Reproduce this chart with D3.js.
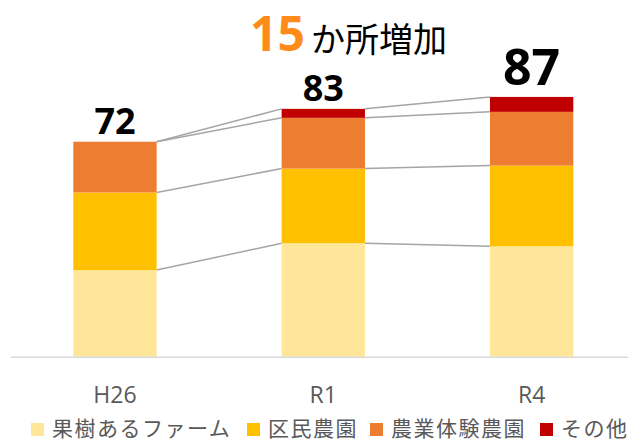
<!DOCTYPE html>
<html>
<head>
<meta charset="utf-8">
<script src="https://cdn.jsdelivr.net/npm/d3@7"></script>
<style>
  body { margin: 0; background: #fff; }
  svg { display: block; }
  .axisText { font-family: "Open Sans", sans-serif; font-size: 23px; fill: #595959; }
  .legendText { font-family: "Noto Sans CJK JP", sans-serif; font-size: 21px; letter-spacing: 1.5px; fill: #595959; }
  .total { font-family: "Open Sans", sans-serif; font-weight: bold; fill: #000; }
</style>
</head>
<body>
<div id="body"></div>
<script>
// data
var years = ["H26", "R1", "R4"];
var seriesNames = ["果樹あるファーム", "区民農園", "農業体験農園", "その他"];
var fruitFarm = [29, 38, 37];
var wardFarm = [26, 25, 27];
var experienceFarm = [17, 17, 18];
var otherFarm = [0, 3, 5];

var colors = ["#ffe699", "#ffc000", "#ed7d31", "#c00000"];

var width = 628, height = 440;

var svg = d3.select("#body")
  .append("svg")
  .attr("width", width)
  .attr("height", height);

var table = years.map(function(y, i) {
  return {
    year: y,
    "果樹あるファーム": fruitFarm[i],
    "区民農園": wardFarm[i],
    "農業体験農園": experienceFarm[i],
    "その他": otherFarm[i]
  };
});

var stacked = d3.stack().keys(seriesNames)(table);

var x = d3.scaleBand()
  .domain(years)
  .range([10.8, 635.8])
  .paddingInner(0.6)
  .paddingOuter(0.3);

var y = d3.scaleLinear()
  .domain([0, 100])
  .range([356.7, 58.1]);

// connector lines between segment tops
stacked.forEach(function(s) {
  for (var i = 0; i < years.length - 1; i++) {
    var a = s[i][1], b = s[i + 1][1];
    if (s[i][1] - s[i][0] == 0 && s[i + 1][1] - s[i + 1][0] == 0) continue;
    svg.append("line")
      .attr("x1", x(years[i]) + x.bandwidth())
      .attr("x2", x(years[i + 1]))
      .attr("y1", y(a))
      .attr("y2", y(b))
      .attr("stroke", "#a5a5a5")
      .attr("stroke-width", 1.5);
  }
});

// bars
svg.selectAll("g.series")
  .data(stacked)
  .enter().append("g")
  .attr("class", "series")
  .attr("fill", function(d, i) { return colors[i]; })
  .selectAll("rect")
  .data(function(d) { return d; })
  .enter().append("rect")
  .attr("x", function(d) { return x(d.data.year); })
  .attr("y", function(d) { return y(d[1]); })
  .attr("width", x.bandwidth())
  .attr("height", function(d) { return y(d[0]) - y(d[1]); });

// axis line
svg.append("line")
  .attr("x1", 11).attr("x2", 628)
  .attr("y1", y(0) + 0.5).attr("y2", y(0) + 0.5)
  .attr("stroke", "#d9d9d9")
  .attr("stroke-width", 1.5);

// category labels
svg.selectAll("text.cat")
  .data(years)
  .enter().append("text")
  .attr("class", "axisText")
  .attr("x", function(d) { return x(d) + x.bandwidth() / 2; })
  .attr("y", 403)
  .attr("text-anchor", "middle")
  .text(function(d) { return d; });

// totals
var totals = table.map(function(d) {
  return d3.sum(seriesNames, function(k) { return d[k]; });
});

svg.selectAll("text.total")
  .data(totals)
  .enter().append("text")
  .attr("class", "total")
  .attr("x", function(d, i) { return x(years[i]) + x.bandwidth() / 2; })
  .attr("y", function(d, i) { return y(d) - (i == 2 ? 12 : 8); })
  .attr("text-anchor", "middle")
  .style("font-size", function(d, i) { return i == 2 ? "50px" : "36px"; })
  .text(function(d) { return d; });

// headline
var title = svg.append("text")
  .attr("x", 250)
  .attr("y", 51);
title.append("tspan")
  .style("font-family", "Open Sans, sans-serif")
  .style("font-weight", "bold")
  .style("font-size", "48px")
  .attr("fill", "#ff8c1a")
  .text(totals[2] - totals[0]);
title.append("tspan")
  .attr("x", 311)
  .attr("y", 52)
  .style("font-family", "Noto Sans CJK JP, sans-serif")
  .style("font-size", "34px")
  .attr("fill", "#000")
  .text("か所増加");

// legend
var legendX = [31, 247, 370, 540];
var legend = svg.selectAll("g.legend")
  .data(seriesNames)
  .enter().append("g")
  .attr("class", "legend")
  .attr("transform", function(d, i) { return "translate(" + legendX[i] + ",423)"; });

legend.append("rect")
  .attr("width", 13)
  .attr("height", 13)
  .attr("fill", function(d, i) { return colors[i]; });

legend.append("text")
  .attr("class", "legendText")
  .attr("x", 21)
  .attr("y", 13)
  .text(function(d) { return d; });
</script>
</body>
</html>
